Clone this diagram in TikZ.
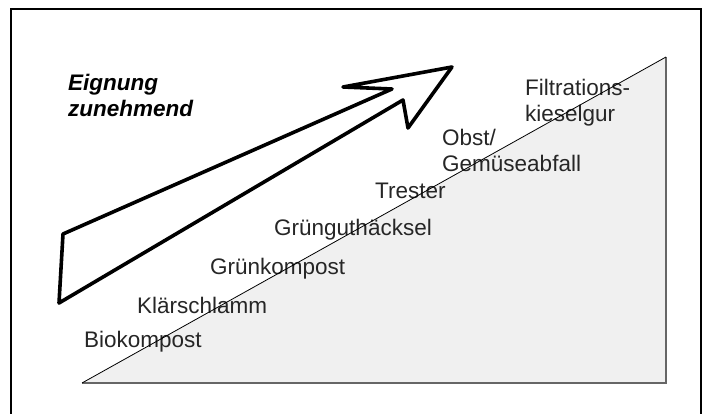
\documentclass[tikz,border=0pt]{standalone}
\usepackage{fontspec}
\setmainfont{Liberation Sans}
\begin{document}
\begin{tikzpicture}[x=1pt, y=-1pt,
		every node/.style = {inner sep=0pt, anchor=base west,
			font=\fontsize{22.5}{26}\selectfont, text=black!85},
		label/.style = {align=left},
		title/.style = {align=left, text=black,
			font=\fontsize{22.5}{26.5}\selectfont\bfseries\itshape},
		bigarrow/.style = {draw, fill=white, line width=3.6pt, line join=round, line cap=round}]
	\useasboundingbox (0,0) rectangle (710,414);
	% frame
	\coordinate (fbl) at (11,420);
	\coordinate (ftl) at (11,9);
	\coordinate (ftr) at (701,9);
	\coordinate (fbr) at (701,420);
	\draw[line width=2pt] (fbl) -- (ftl) -- (ftr) -- (fbr);
	% wedge
	\coordinate (wl) at (82,383);
	\coordinate (wr) at (666,383);
	\coordinate (wt) at (666,57);
	\fill[black!6] (wl) -- (wr) -- (wt) -- cycle;
	\draw[black!60, line width=1.6pt] (wt) -- (wr) -- (wl);
	% materials
	\node (bio) at (84,347) {Biokompost};
	\node (klaer) at (137,313) {Klärschlamm};
	\node (gruen) at (210,275) {Grünkompost};
	\node (haeck) at (274,236) {Grünguthäcksel};
	\node (trester) at (375,199) {Trester};
	\node[label] (obst) at (442,172) {Obst/\\Gemüseabfall};
	\node[label] (kiesel) at (525,122) {Filtrations-\\kieselgur};
	\draw[line width=0.8pt] (wl) -- (wt);
	% arrow
	\node[title] (eignung) at (68,117) {Eignung\\zunehmend};
	\coordinate (tip) at (452,67);
	\coordinate (barb1) at (343,87);
	\coordinate (notch1) at (392,89);
	\coordinate (tail1) at (63,234);
	\coordinate (tail2) at (59,303);
	\coordinate (notch2) at (403,100);
	\coordinate (barb2) at (408,128);
	\draw[bigarrow] (tip) -- (barb1) -- (notch1) -- (tail1) -- (tail2)
		-- (notch2) -- (barb2) -- cycle;
\end{tikzpicture}
\end{document}
